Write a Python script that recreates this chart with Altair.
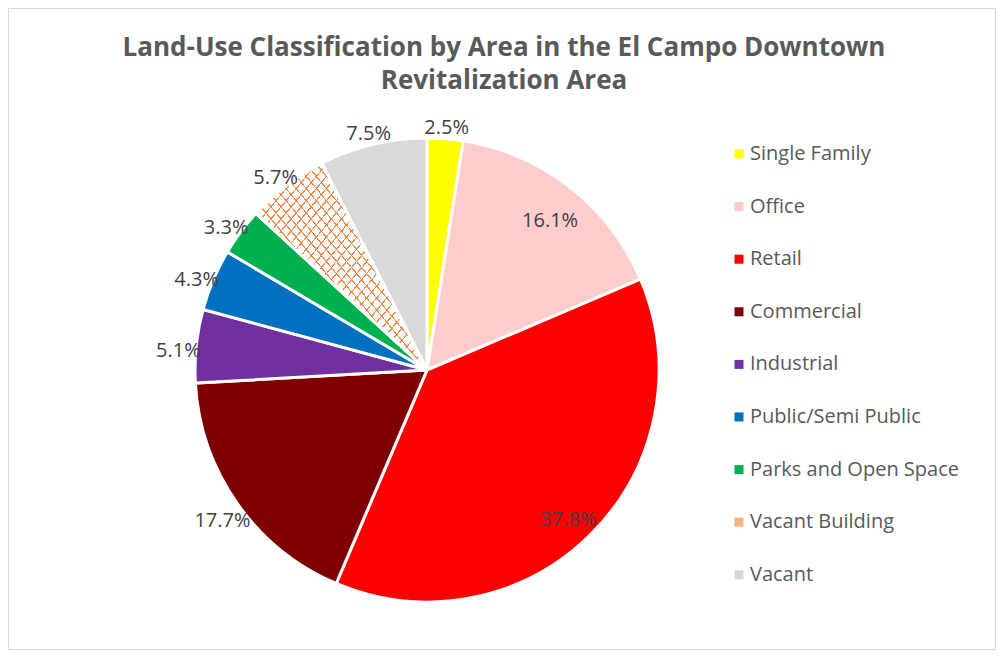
import altair as alt
import pandas as pd

# ---- data ----
categories = ["Single Family", "Office", "Retail", "Commercial", "Industrial",
              "Public/Semi Public", "Parks and Open Space", "Vacant Building", "Vacant"]
shares = [2.5, 16.1, 37.8, 17.7, 5.1, 4.3, 3.3, 5.7, 7.5]
colors = ["#FFFF00", "#FFCCCC", "#FF0000", "#7F0000", "#7030A0",
          "#0070C0", "#00B050", "#F4B183", "#D9D9D9"]
inside_labels = ["Office", "Retail"]
pattern_category = "Vacant Building"
title_lines = ["Land-Use Classification by Area in the El Campo Downtown",
               "Revitalization Area"]

df = pd.DataFrame({
    "category": categories,
    "share": shares,
    "order": list(range(len(categories))),
    "label": [f"{v:.1f}%" for v in shares],
})

RADIUS = 232
FONT = "Open Sans"


def stripes(bg, fg, n, frac, x1, y1, x2, y2):
    stops = []
    for i in range(n):
        a = i / n
        b = a + frac / n
        stops += [
            {"offset": a, "color": fg},
            {"offset": b, "color": fg},
            {"offset": b, "color": bg},
            {"offset": (i + 1) / n, "color": bg},
        ]
    return {"gradient": "linear", "x1": x1, "y1": y1, "x2": x2, "y2": y2, "stops": stops}


base = alt.Chart(df).encode(
    theta=alt.Theta("share:Q", stack=True),
    order=alt.Order("order:Q"),
)

pie = base.mark_arc(outerRadius=RADIUS, stroke="white", strokeWidth=3).encode(
    color=alt.Color(
        "category:N",
        sort=categories,
        scale=alt.Scale(domain=categories, range=colors),
        legend=alt.Legend(
            title=None, orient="none", legendX=534, legendY=6, padding=0,
            symbolType="square", symbolSize=81, symbolStrokeWidth=0,
            labelFont=FONT, labelFontSize=20, labelColor="#595959",
            labelOffset=1, rowPadding=32.6, labelLimit=400,
        ),
    )
)

is_pattern = alt.datum.category == pattern_category
hatch_a = base.mark_arc(
    outerRadius=RADIUS, stroke="white", strokeWidth=3,
    fill=stripes("#FFFFFF", "#F08A4B", 34, 0.15, 0, 0, 1, 1),
).encode(opacity=alt.condition(is_pattern, alt.value(1), alt.value(0)))

hatch_b = base.mark_arc(
    outerRadius=RADIUS, stroke="white", strokeWidth=3,
    fill=stripes("rgba(255,255,255,0)", "#F08A4B", 34, 0.15, 1, 0, 0, 1),
).encode(opacity=alt.condition(is_pattern, alt.value(1), alt.value(0)))

in_pred = alt.FieldOneOfPredicate(field="category", oneOf=inside_labels)

outside_text = base.mark_text(radius=250, dy=7, fontSize=20, font=FONT, color="#404040").encode(
    text=alt.condition(in_pred, alt.value(""), alt.Text("label:N"))
)
inside_text = base.mark_text(radius=200, dy=9, fontSize=20, font=FONT, color="#404040").encode(
    text=alt.condition(in_pred, alt.Text("label:N"), alt.value(""))
)

frame = alt.Chart(pd.DataFrame({"k": [0]})).mark_rect(
    filled=False, stroke="#D9D9D9", strokeWidth=1
).encode(
    x=alt.value(-186.5), x2=alt.value(800.5),
    y=alt.value(-129.5), y2=alt.value(511.5),
)

chart = alt.layer(frame, pie, hatch_a, hatch_b, outside_text, inside_text).properties(
    width=2 * RADIUS,
    height=2 * RADIUS,
    autosize="none",
    padding={"left": 187, "top": 130, "right": 337, "bottom": 48},
    title=alt.Title(
        text=title_lines, font=FONT, fontSize=26, fontWeight="bold", color="#595959",
        lineHeight=33, anchor="middle", frame="group", dx=77, offset=-86,
    ),
).configure_view(strokeWidth=0)

chart.save("out.html", embed_options={"renderer": "svg", "actions": False})
